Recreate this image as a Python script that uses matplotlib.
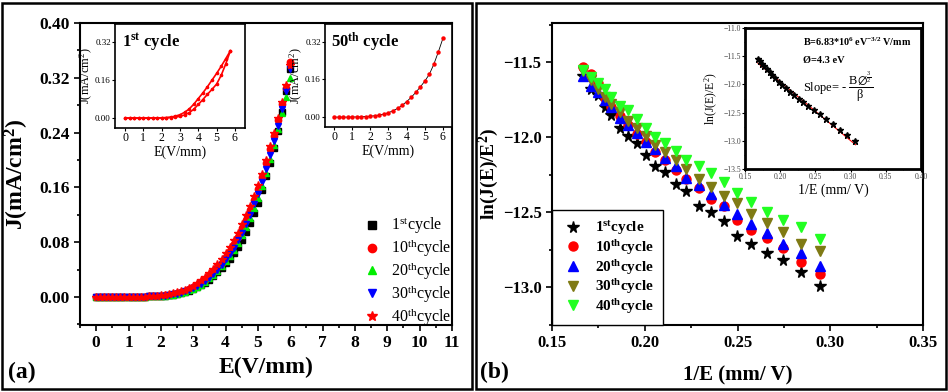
import matplotlib
matplotlib.use("Agg")
import matplotlib.pyplot as plt
import matplotlib.patches as pc
from matplotlib.ticker import MultipleLocator

plt.rcParams['font.family'] = ['Liberation Serif', 'DejaVu Serif']
plt.rcParams['mathtext.default'] = 'regular'

# ---------------- data: panel (a) J vs E ----------------
e_field = [0.0, 0.125, 0.25, 0.375, 0.5, 0.625, 0.75, 0.875, 1.0, 1.125, 1.25, 1.375, 1.5,
           1.625, 1.75, 1.875, 2.0, 2.125, 2.25, 2.375, 2.5, 2.625, 2.75, 2.875, 3.0,
           3.125, 3.25, 3.375, 3.5, 3.625, 3.75, 3.875, 4.0, 4.125, 4.25, 4.375, 4.5,
           4.625, 4.75, 4.875, 5.0, 5.125, 5.25, 5.375, 5.5, 5.625, 5.75, 5.875, 6.0]
j_low = [0.0, 0.0, 0.0, 0.0001, 0.0001, 0.0001, 0.0002, 0.0002, 0.0003, 0.0003,
         0.0004, 0.0005, 0.0006, 0.0007, 0.0009, 0.0011]
j_c1 = [0.0013, 0.0018, 0.0024, 0.0032, 0.0042, 0.0055, 0.007, 0.009, 0.011, 0.014, 0.017,
        0.021, 0.025, 0.030, 0.036, 0.042, 0.049, 0.056, 0.064, 0.073, 0.083, 0.095, 0.108,
        0.122, 0.137, 0.156, 0.176, 0.196, 0.218, 0.243, 0.270, 0.300, 0.333]
j_c10 = [0.0018, 0.0024, 0.0032, 0.0042, 0.0055, 0.007, 0.009, 0.011, 0.014, 0.017, 0.021,
         0.025, 0.030, 0.036, 0.043, 0.050, 0.058, 0.067, 0.077, 0.088, 0.100, 0.113, 0.127,
         0.142, 0.158, 0.175, 0.195, 0.216, 0.235, 0.258, 0.281, 0.305, 0.343]
j_c20 = [0.0014, 0.0019, 0.0026, 0.0035, 0.0046, 0.006, 0.0075, 0.0095, 0.012, 0.015, 0.018,
         0.022, 0.027, 0.032, 0.038, 0.045, 0.052, 0.060, 0.069, 0.079, 0.090, 0.102, 0.115,
         0.130, 0.145, 0.162, 0.181, 0.201, 0.222, 0.245, 0.268, 0.292, 0.320]
j_c30 = [0.0015, 0.002, 0.0027, 0.0036, 0.0048, 0.0062, 0.008, 0.010, 0.013, 0.016, 0.019,
         0.023, 0.028, 0.034, 0.040, 0.047, 0.055, 0.063, 0.072, 0.083, 0.094, 0.107, 0.120,
         0.135, 0.151, 0.168, 0.187, 0.207, 0.228, 0.250, 0.275, 0.300, 0.333]
j_c40 = [0.0023, 0.003, 0.004, 0.0052, 0.0067, 0.0085, 0.0105, 0.013, 0.016, 0.020, 0.024,
         0.029, 0.035, 0.041, 0.048, 0.056, 0.064, 0.073, 0.083, 0.094, 0.106, 0.119, 0.133,
         0.147, 0.163, 0.180, 0.200, 0.220, 0.240, 0.262, 0.285, 0.310, 0.338]

# inset: 1st cycle (forward / reverse sweep)
ins1_e = [0.0, 0.25, 0.5, 0.75, 1.0, 1.25, 1.5, 1.75, 2.0, 2.25, 2.5, 2.75, 3.0, 3.25,
          3.5, 3.75, 4.0, 4.25, 4.5, 4.75, 5.0, 5.25, 5.5, 5.75]
ins1_up = [0, 0, 0, 0, 0, 0, 0.0003, 0.0006, 0.001, 0.002, 0.004, 0.008, 0.014, 0.024,
           0.038, 0.058, 0.082, 0.106, 0.132, 0.160, 0.188, 0.218, 0.250, 0.283]
ins1_dn = [0, 0, 0, 0, 0, 0, 0.0002, 0.0003, 0.0005, 0.001, 0.002, 0.004, 0.007, 0.013,
           0.022, 0.037, 0.057, 0.078, 0.100, 0.121, 0.143, 0.180, 0.228, 0.283]
# inset: 50th cycle
ins2_e = [0.0, 0.25, 0.5, 0.75, 1.0, 1.25, 1.5, 1.75, 2.0, 2.25, 2.5, 2.75, 3.0, 3.25,
          3.5, 3.75, 4.0, 4.25, 4.5, 4.75, 5.0, 5.25, 5.5, 5.75, 6.0]
ins2_j = [0, 0, 0, 0, 0.0005, 0.0008, 0.0015, 0.0025, 0.004, 0.006, 0.009, 0.013, 0.019,
          0.027, 0.037, 0.050, 0.066, 0.084, 0.105, 0.128, 0.153, 0.182, 0.225, 0.278, 0.335]

# ---------------- data: panel (b) F-N plot ----------------
inv_e = [0.1665, 0.171, 0.175, 0.1787, 0.182, 0.1866, 0.191, 0.1958, 0.2008, 0.2057, 0.2109,
         0.2166, 0.2224, 0.229, 0.2355, 0.2425, 0.2498, 0.2572, 0.2658, 0.2746, 0.2843, 0.2943]
fn_c1 = [-11.59, -11.68, -11.72, -11.80, -11.85, -11.94, -11.99, -12.04, -12.12, -12.19, -12.23,
         -12.31, -12.36, -12.46, -12.50, -12.56, -12.66, -12.71, -12.77, -12.82, -12.90, -12.99]
fn_c10 = [-11.53, -11.58, -11.64, -11.74, -11.80, -11.86, -11.92, -11.98, -12.03, -12.10, -12.15,
          -12.22, -12.28, -12.34, -12.41, -12.46, -12.55, -12.62, -12.67, -12.74, -12.83, -12.91]
fn_c20 = [-11.59, -11.66, -11.70, -11.75, -11.80, -11.87, -11.92, -11.97, -12.03, -12.08, -12.14,
          -12.19, -12.27, -12.32, -12.38, -12.45, -12.51, -12.58, -12.64, -12.71, -12.77, -12.86]
fn_c30 = [-11.56, -11.62, -11.68, -11.73, -11.78, -11.83, -11.89, -11.94, -11.99, -12.05, -12.10,
          -12.15, -12.21, -12.28, -12.33, -12.39, -12.44, -12.51, -12.57, -12.63, -12.71, -12.76]
fn_c40 = [-11.55, -11.60, -11.64, -11.68, -11.73, -11.79, -11.82, -11.88, -11.94, -12.00, -12.04,
          -12.09, -12.15, -12.19, -12.24, -12.30, -12.37, -12.43, -12.50, -12.55, -12.60, -12.68]

# inset: 1st cycle with linear fit
fit_x = [0.168, 0.171, 0.174, 0.177, 0.181, 0.185, 0.189, 0.193, 0.198, 0.203, 0.208, 0.214,
         0.220, 0.226, 0.233, 0.240, 0.248, 0.256, 0.265, 0.275, 0.285, 0.295, 0.306]
fit_y = [-11.55, -11.59, -11.63, -11.67, -11.73, -11.78, -11.83, -11.88, -11.95, -12.01, -12.06,
         -12.13, -12.19, -12.25, -12.32, -12.38, -12.46, -12.53, -12.62, -12.71, -12.81, -12.90,
         -13.00]
line_x = [0.168, 0.307]
line_y = [-11.62, -13.07]

labels = ["1$^{st}$cycle", "10$^{th}$cycle", "20$^{th}$cycle", "30$^{th}$cycle", "40$^{th}$cycle"]

fig = plt.figure(figsize=(9.48, 3.92), dpi=100)

# panel frames
for x0 in [2 / 948, 476 / 948]:
    fig.patches.append(pc.Rectangle((x0, 3 / 392), 470 / 948, 386 / 392, transform=fig.transFigure,
                                    fill=False, edgecolor='black', linewidth=1.8))

# ---------------- panel (a) ----------------
ax = fig.add_axes([80 / 948, 67 / 392, 372 / 948, 302 / 392])
j_sets = [j_c1, j_c10, j_c20, j_c30, j_c40]
styles_a = [('s', 'black', 4.2), ('o', 'red', 4.6), ('^', '#00ee00', 4.6),
            ('v', 'blue', 4.6), ('*', 'red', 6.0)]
for js, (m, c, s), lab in zip(j_sets, styles_a, labels):
    ax.plot(e_field, j_low + js, linestyle='none', marker=m, color=c, markersize=s, label=lab)
ax.set_xlim(-0.5, 11)
ax.set_ylim(-0.041, 0.40)
ax.set_xticks(range(0, 12))
ax.set_yticks([0.0, 0.08, 0.16, 0.24, 0.32, 0.40])
ax.xaxis.set_minor_locator(MultipleLocator(0.5))
ax.yaxis.set_minor_locator(MultipleLocator(0.04))
ax.tick_params(which='both', direction='out', width=1.2)
ax.tick_params(which='major', length=4, labelsize=12.5)
ax.tick_params(which='minor', length=2)
for t in ax.get_xticklabels() + ax.get_yticklabels():
    t.set_fontweight('bold')
for sp in ax.spines.values():
    sp.set_linewidth(1.5)
ax.set_xlabel("E(V/mm)", fontsize=17, fontweight='bold', labelpad=4)
ax.set_ylabel("J(mA/cm$^2$)", fontsize=17, fontweight='bold', labelpad=6)
ax.legend(loc='lower right', bbox_to_anchor=(1.015, -0.03), frameon=False, fontsize=11.5,
          handletextpad=0.7, labelspacing=0.05, borderaxespad=0.0, markerscale=1.3,
          handlelength=1.0)
fig.text(8 / 948, 20 / 392, "(a)", fontsize=17, fontweight='bold', va='center')

# inset 1st cycle
a1 = fig.add_axes([115 / 948, 264 / 392, 130 / 948, 104 / 392])
a1.plot(ins1_e, ins1_up, '-', color='red', marker='o', markersize=1.6, linewidth=1.2)
a1.plot(ins1_e, ins1_dn, '-', color='red', marker='o', markersize=1.6, linewidth=1.2)
a1.set_xlim(-0.55, 6.55)
a1.set_ylim(-0.042, 0.396)

# inset 50th cycle
a2 = fig.add_axes([325 / 948, 265 / 392, 127 / 948, 103 / 392])
a2.plot(ins2_e, ins2_j, '-', color='black', linewidth=0.6)
a2.plot(ins2_e, ins2_j, linestyle='none', color='red', marker='o', markersize=2.2)
a2.set_xlim(-0.5, 6.5)
a2.set_ylim(-0.042, 0.396)

for a, txt in [(a1, "1$^{st}$ cycle"), (a2, "50$^{th}$ cycle")]:
    a.set_xticks(range(0, 7))
    a.set_yticks([0.0, 0.16, 0.32])
    a.set_yticklabels(["0.00", "0.16", "0.32"])
    a.tick_params(axis='x', labelsize=8.5, length=2, pad=1)
    a.tick_params(axis='y', labelsize=6.5, length=2, pad=1)
    a.set_xlabel("E(V/mm)", fontsize=10, labelpad=1)
    a.set_ylabel("J(mA/cm$^2$)", fontsize=9, labelpad=0)
    for sp in a.spines.values():
        sp.set_linewidth(1.2)
    a.text(0.05, 0.93, txt, transform=a.transAxes, fontsize=12, fontweight='bold',
           ha='left', va='top')

# ---------------- panel (b) ----------------
bx = fig.add_axes([552 / 948, 67 / 392, 371 / 948, 302 / 392])
fn_sets = [fn_c1, fn_c10, fn_c20, fn_c30, fn_c40]
styles_b = [('*', 'black', 8.5), ('o', 'red', 6.5), ('^', 'blue', 6.8),
            ('v', '#7f7a14', 6.8), ('v', '#22ff22', 6.8)]
for ys, (m, c, s), lab in zip(fn_sets, styles_b, labels):
    bx.plot(inv_e, ys, linestyle='none', marker=m, color=c, markersize=s, label=lab)
bx.set_xlim(0.15, 0.35)
bx.set_ylim(-13.25, -11.24)
bx.set_xticks([0.15, 0.20, 0.25, 0.30, 0.35])
bx.set_xticklabels(["0.15", "0.20", "0.25", "0.30", "0.35"])
bx.set_yticks([-13.0, -12.5, -12.0, -11.5])
bx.xaxis.set_minor_locator(MultipleLocator(0.025))
bx.yaxis.set_minor_locator(MultipleLocator(0.25))
bx.tick_params(which='both', direction='out', width=1.2)
bx.tick_params(which='major', length=4, labelsize=12)
bx.tick_params(which='minor', length=2)
for t in bx.get_xticklabels() + bx.get_yticklabels():
    t.set_fontweight('bold')
for sp in bx.spines.values():
    sp.set_linewidth(1.5)
bx.set_xlabel("1/E (mm/ V)", fontsize=15, fontweight='bold', labelpad=10)
bx.set_ylabel("ln(J(E)/E$^2$)", fontsize=14, fontweight='bold', labelpad=1)
leg = bx.legend(loc='lower left', prop={'weight': 'bold', 'size': 11},
                fancybox=False, edgecolor='black', framealpha=1.0, borderaxespad=0,
                handletextpad=0.6, labelspacing=0.05, borderpad=0.6, handlelength=1.6)
leg.get_frame().set_linewidth(1.0)
fig.text(480 / 948, 20 / 392, "(b)", fontsize=17, fontweight='bold', va='center')

# inset F-N fit
b1 = fig.add_axes([745 / 948, 223 / 392, 176 / 948, 141 / 392])
b1.plot(line_x, line_y, '-', color='red', linewidth=0.8)
b1.plot(fit_x, fit_y, linestyle='none', marker='*', color='black', markersize=4.5)
b1.set_xlim(0.15, 0.40)
b1.set_ylim(-13.5, -11.0)
b1.set_xticks([0.15, 0.20, 0.25, 0.30, 0.35, 0.40])
b1.set_yticks([-13.5, -13.0, -12.5, -12.0, -11.5, -11.0])
b1.xaxis.set_minor_locator(MultipleLocator(0.025))
b1.yaxis.set_minor_locator(MultipleLocator(0.25))
b1.tick_params(which='both', labelsize=5.5, length=2, pad=1, labelcolor='#444444')
b1.tick_params(which='minor', length=1)
for sp in b1.spines.values():
    sp.set_linewidth(2.0)
b1.set_xlabel("1/E (mm/ V)", fontsize=10, labelpad=2)
b1.set_ylabel("ln(J(E)/E$^2$)", fontsize=8.5, labelpad=2)
b1.text(0.33, 0.90, "B=6.83*10$^6$ eV$^{-3/2}$ V/mm", transform=b1.transAxes,
        fontsize=7.3, fontweight='bold', ha='left', va='center')
b1.text(0.33, 0.77, "\u00d8=4.3 eV", transform=b1.transAxes,
        fontsize=7.5, fontweight='bold', ha='left', va='center')
b1.text(0.33, 0.58, r"Slope= - $\dfrac{B\emptyset^{\frac{3}{2}}}{\beta}$", transform=b1.transAxes,
        fontsize=9, ha='left', va='center')

fig.savefig("out.png", dpi=100)
